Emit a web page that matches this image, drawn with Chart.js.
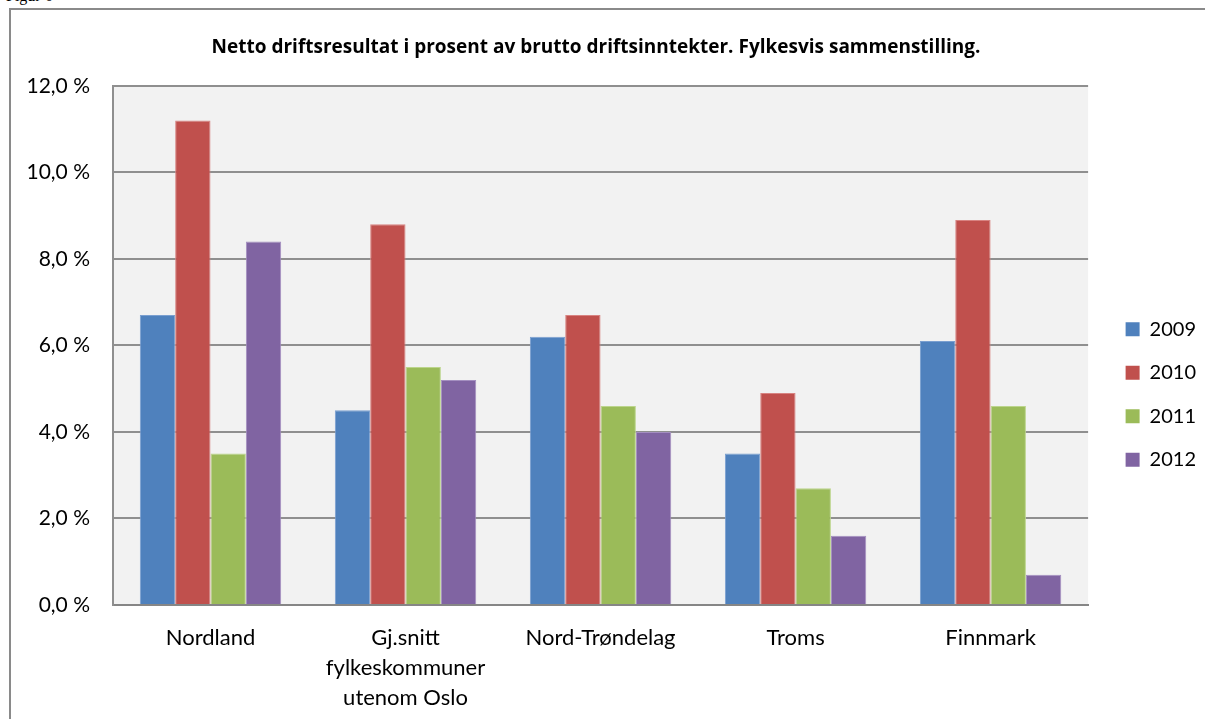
<!DOCTYPE html>
<html>
<head>
<meta charset="utf-8">
<script src="https://cdn.jsdelivr.net/npm/chart.js@4.4.1/dist/chart.umd.min.js"></script>
<style>
  html, body { margin: 0; padding: 0; background: #fff; overflow: hidden; }
  #frame { position: absolute; left: 9px; top: 8px; width: 1400px; height: 900px; border: 2px solid #8a8a8a; }
  #fig { position: absolute; left: 6px; top: -13px; font: 16px "Liberation Serif", serif; color: #000; }
  #c { position: absolute; left: 0; top: 0; }
</style>
</head>
<body>
<div id="fig">Figur 6</div>
<div id="frame"></div>
<canvas id="c" width="1205" height="719"></canvas>
<script>
const categories = ["Nordland", ["Gj.snitt", "fylkeskommuner", "utenom Oslo"], "Nord-Trøndelag", "Troms", "Finnmark"]
const years = ["2009", "2010", "2011", "2012"]
const v2009 = [6.7, 4.5, 6.2, 3.5, 6.1]
const v2010 = [11.2, 8.8, 6.7, 4.9, 8.9]
const v2011 = [3.5, 5.5, 4.6, 2.7, 4.6]
const v2012 = [8.4, 5.2, 4.0, 1.6, 0.7]
const yTicks = [0, 2, 4, 6, 8, 10, 12]

const colors = ["#4f81bd", "#c0504d", "#9bbb59", "#8064a2"]
const edges = ["#7a9fd0", "#d88381", "#bcd58c", "#a48fc0"]
const series = [v2009, v2010, v2011, v2012]

// grey plot area like the Excel original
const plotBg = {
  id: "plotBg",
  beforeDraw(chart) {
    const { ctx, chartArea: a } = chart
    ctx.save()
    ctx.fillStyle = "#f2f2f2"
    ctx.fillRect(a.left, a.top, a.right - a.left, a.bottom - a.top)
    ctx.restore()
  },
}

// nudge the legend box right and down
const legendShift = {
  id: "legendShift",
  afterLayout(chart) {
    const l = chart.legend
    const dx = chart.chartArea.right + 14 - l.left
    l.left += dx
    l.right += dx
    l.top += 35
    l.bottom += 35
  },
}

new Chart(document.getElementById("c").getContext("2d"), {
  type: "bar",
  data: {
    labels: categories,
    datasets: series.map((d, i) => ({
      label: years[i],
      data: d,
      backgroundColor: colors[i],
      borderColor: edges[i],
      borderWidth: 1,
      categoryPercentage: 0.725,
      barPercentage: 1.0,
    })),
  },
  plugins: [plotBg, legendShift],
  options: {
    responsive: false,
    animation: false,
    devicePixelRatio: 1,
    layout: { padding: { left: 0, right: 13, top: 0, bottom: 0 } },
    plugins: {
      title: {
        display: true,
        text: "Netto driftsresultat i prosent av brutto driftsinntekter. Fylkesvis sammenstilling.",
        color: "#000",
        font: { family: "Open Sans", size: 19, weight: "bold" },
        padding: { top: 36, bottom: 27 },
      },
      legend: {
        position: "right",
        labels: {
          color: "#000",
          boxWidth: 14,
          boxHeight: 14,
          padding: 23.5,
          font: { family: "Lato", size: 20 },
          generateLabels(chart) {
            return chart.data.datasets.map((ds, i) => ({
              text: ds.label,
              fillStyle: colors[i],
              strokeStyle: colors[i],
              lineWidth: 0,
              datasetIndex: i,
            }))
          },
        },
      },
      tooltip: { enabled: false },
    },
    scales: {
      x: {
        afterFit(scale) { scale.height = 114 },
        grid: { display: false, drawTicks: false },
        border: { display: true, color: "#868686", width: 2 },
        ticks: {
          color: "#000",
          padding: 18,
          maxRotation: 0,
          autoSkip: false,
          font: { family: "Lato", size: 22, lineHeight: 1.36 },
        },
      },
      y: {
        min: 0,
        max: 12,
        afterFit(scale) { scale.width = 113 },
        afterBuildTicks(scale) { scale.ticks = yTicks.map(v => ({ value: v })) },
        grid: { color: "#8f8f8f", lineWidth: 2, drawTicks: false },
        border: { display: true, color: "#8f8f8f", width: 2 },
        ticks: {
          color: "#000",
          padding: 23,
          font: { family: "Lato", size: 21 },
          callback: v => v.toFixed(1).replace(".", ",") + " %",
        },
      },
    },
  },
})
</script>
</body>
</html>
